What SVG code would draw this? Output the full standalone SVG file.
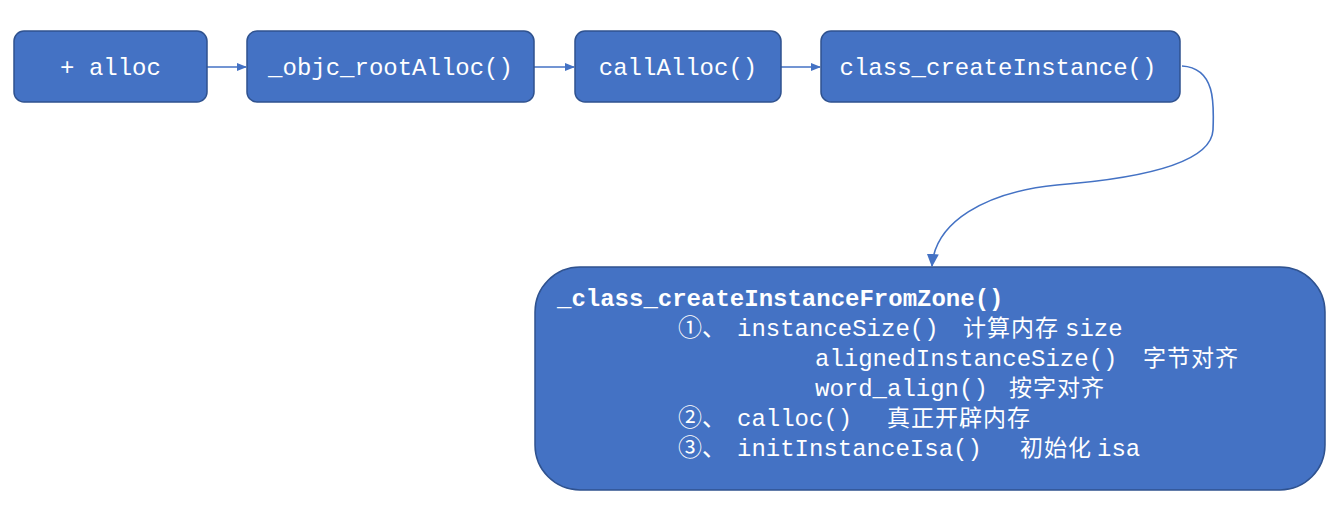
<svg xmlns="http://www.w3.org/2000/svg" width="1342" height="508" viewBox="0 0 1342 508">
<defs>
<style>
.box{fill:#4472C4;stroke:#2F528F;stroke-width:1.5}
.t{fill:#fff;font-family:"Liberation Mono","Noto Sans CJK SC",monospace;font-size:24px}
.c{font-family:"Noto Sans CJK SC",sans-serif;font-size:23px;letter-spacing:1px}
.b{font-weight:bold}
.con{fill:none;stroke:#4472C4;stroke-width:1.6}
</style>
<marker id="ah" markerWidth="10" markerHeight="10" refX="9" refY="5" orient="auto" markerUnits="userSpaceOnUse">
<path d="M0,1 L10,5 L0,9 Z" fill="#4472C4"/>
</marker>
<marker id="ah2" markerWidth="14" markerHeight="14" refX="12" refY="7" orient="auto" markerUnits="userSpaceOnUse">
<path d="M0,1 L13,7 L0,13 Z" fill="#4472C4"/>
</marker>
</defs>
<rect width="1342" height="508" fill="#fff"/>
<g id="connectors">
<path class="con" d="M207,67 L246,67" marker-end="url(#ah)"/>
<path class="con" d="M534,67 L574,67" marker-end="url(#ah)"/>
<path class="con" d="M781,67 L820,67" marker-end="url(#ah)"/>
<path class="con" d="M1182,66 C1216,68 1214,105 1213,130 C1211,168 1120,180 1057,185 C985,192 935,222 932,266" marker-end="url(#ah2)"/>
</g>
<g id="alloc">
<rect class="box" x="14" y="31" width="193" height="71" rx="10"/>
<text class="t" x="110.5" y="75" text-anchor="middle">+ alloc</text>
</g>
<g id="rootAlloc">
<rect class="box" x="247" y="31" width="287" height="71" rx="10"/>
<text class="t" x="390.5" y="75" text-anchor="middle">_objc_rootAlloc()</text>
</g>
<g id="callAlloc">
<rect class="box" x="575" y="31" width="206" height="71" rx="10"/>
<text class="t" x="678" y="75" text-anchor="middle">callAlloc()</text>
</g>
<g id="createInstance">
<rect class="box" x="821" y="31" width="359" height="71" rx="10"/>
<text class="t" x="998" y="75" text-anchor="middle">class_createInstance()</text>
</g>
<g id="fromZone">
<rect class="box" x="535" y="267" width="790" height="223" rx="45"/>
<text class="t b" x="557" y="306">_class_createInstanceFromZone()</text>
<text class="t" y="336"><tspan x="678">①、</tspan><tspan x="737">instanceSize()</tspan><tspan class="c" x="963">计算内存</tspan><tspan x="1065">size</tspan></text>
<text class="t" y="366"><tspan x="815">alignedInstanceSize()</tspan><tspan class="c" x="1143">字节对齐</tspan></text>
<text class="t" y="396"><tspan x="815">word_align()</tspan><tspan class="c" x="1009">按字对齐</tspan></text>
<text class="t" y="426"><tspan x="678">②、</tspan><tspan x="737">calloc()</tspan><tspan class="c" x="887">真正开辟内存</tspan></text>
<text class="t" y="456"><tspan x="678">③、</tspan><tspan x="737">initInstanceIsa()</tspan><tspan class="c" x="1020">初始化</tspan><tspan x="1097">isa</tspan></text>
</g>
</svg>
